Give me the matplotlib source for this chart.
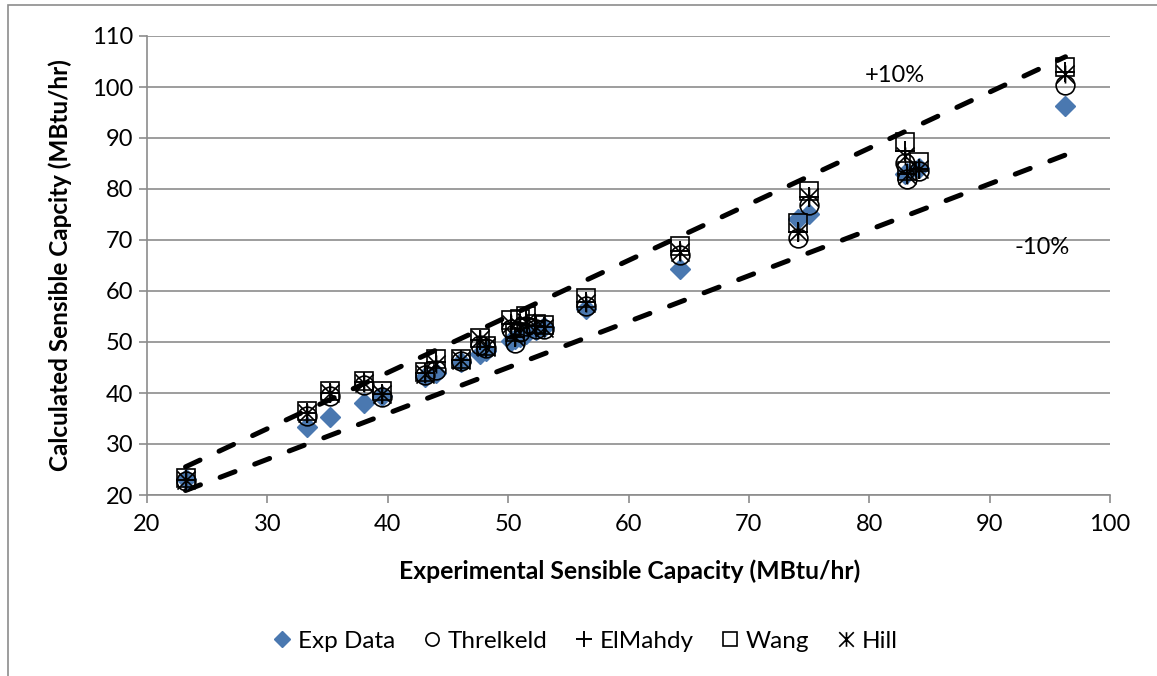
import matplotlib
matplotlib.use("Agg")
import matplotlib.pyplot as plt
import numpy as np
from matplotlib.path import Path
from matplotlib.patches import Rectangle

plt.rcParams['font.family'] = ['Lato', 'DejaVu Sans']

# ---- data (MBtu/hr) ----
exp_x = [23.2, 33.3, 35.2, 38.0, 39.5, 43.1, 44.0, 46.1, 47.7, 48.2,
         50.2, 50.6, 51.0, 51.5, 52.3, 53.0, 56.5, 64.3, 74.1, 75.0,
         83.0, 83.1, 84.1, 96.3]
exp_y = exp_x
threlkeld = [22.8, 35.5, 39.4, 41.6, 39.3, 43.5, 44.5, 46.2, 49.5, 48.8,
             52.5, 49.8, 52.0, 53.2, 52.5, 52.5, 57.0, 67.0, 70.3, 76.8,
             85.0, 82.0, 83.5, 100.4]
elmahdy = [23.0, 36.0, 40.0, 42.2, 39.8, 44.0, 46.0, 46.5, 50.3, 49.0,
           53.5, 51.0, 53.5, 54.5, 53.2, 53.0, 57.8, 67.8, 71.5, 78.5,
           87.5, 83.0, 84.0, 103.0]
wang = [23.4, 36.4, 40.3, 42.3, 40.3, 44.2, 46.7, 46.6, 50.8, 49.3,
        54.3, 52.0, 54.5, 55.0, 53.6, 53.3, 58.6, 68.8, 73.4, 79.7,
        89.2, 83.5, 85.3, 104.0]
hill = [23.0, 36.0, 40.0, 42.0, 39.8, 43.8, 45.7, 46.4, 50.5, 49.0,
        53.5, 51.0, 53.0, 54.0, 53.0, 52.8, 57.7, 67.7, 71.5, 78.5,
        86.5, 82.8, 84.0, 102.5]
band_x = [23.2, 96.3]
upper_factor = 1.1
lower_factor = 0.9

W, H = 1157, 676
fig = plt.figure(figsize=(W / 100, H / 100), dpi=100)
ax = fig.add_axes([147 / W, 1 - 495 / H, (1110 - 147) / W, (495 - 36) / H])

# outer chart border (only top and left visible)
fig.patches.append(Rectangle((8 / W, -0.1), 1.2, (676 - 5) / H + 0.1,
                             transform=fig.transFigure, fill=False,
                             edgecolor='#8c8c8c', linewidth=1.2))

blue = '#4a78b0'
ax.plot(exp_x, exp_y, linestyle='none', marker='D', markersize=10.2,
        color=blue, markeredgecolor=blue, zorder=3)
ax.plot(exp_x, threlkeld, linestyle='none', marker='o', markersize=13.5,
        markerfacecolor='none', markeredgecolor='black', markeredgewidth=1.2, zorder=4)
ax.plot(exp_x, elmahdy, linestyle='none', marker='+', markersize=14.5,
        color='black', markeredgewidth=1.4, zorder=4)
ax.plot(exp_x, wang, linestyle='none', marker='s', markersize=13,
        markerfacecolor='none', markeredgecolor='black', markeredgewidth=1.2, zorder=4)

star = Path([(-0.5, -0.5), (0.5, 0.5), (-0.5, 0.5), (0.5, -0.5), (0, -0.5), (0, 0.5)],
            [Path.MOVETO, Path.LINETO, Path.MOVETO, Path.LINETO, Path.MOVETO, Path.LINETO])
ax.plot(exp_x, hill, linestyle='none', marker=star, markersize=13,
        markerfacecolor='none', markeredgecolor='black', markeredgewidth=1.2, zorder=4)

bx = np.array(band_x)
for f in (upper_factor, lower_factor):
    ln, = ax.plot(bx, bx * f, color='black', linewidth=3.6, solid_capstyle='round',
                  dash_capstyle='round', zorder=2)
    ln.set_dashes((3.2, 4.2))

ax.annotate('+10%', xy=(895 / W, 1 - 76 / H), xycoords='figure fraction',
            ha='center', va='center', fontsize=17)
ax.annotate('-10%', xy=(1042 / W, 1 - 248 / H), xycoords='figure fraction',
            ha='center', va='center', fontsize=17)

ax.set_xlim(20, 100)
ax.set_ylim(20, 110)
ax.set_xticks(np.arange(20, 101, 10))
ax.set_yticks(np.arange(20, 111, 10))
ax.tick_params(axis='both', labelsize=17, length=6, width=1.2, color='#8c8c8c',
               direction='out')
ax.tick_params(axis='x', pad=8)
ax.tick_params(axis='y', pad=4)
ax.yaxis.grid(True, color='#8c8c8c', linewidth=1.2)
ax.set_axisbelow(True)
for s in ('top', 'right'):
    ax.spines[s].set_visible(False)
for s in ('left', 'bottom'):
    ax.spines[s].set_color('#8c8c8c')
    ax.spines[s].set_linewidth(1.2)

fig.text(630 / W, 1 - 571 / H, 'Experimental Sensible Capacity (MBtu/hr)',
         ha='center', va='center', fontsize=17.8, fontweight='bold')
fig.text(60 / W, 1 - 265 / H, 'Calculated Sensible Capcity (MBtu/hr)',
         ha='center', va='center', rotation=90, fontsize=17.5, fontweight='bold')

handles = [
    plt.Line2D([], [], linestyle='none', marker='D', markersize=8.5, color=blue),
    plt.Line2D([], [], linestyle='none', marker='o', markersize=9.5,
               markerfacecolor='none', markeredgecolor='black', markeredgewidth=1.2),
    plt.Line2D([], [], linestyle='none', marker='+', markersize=11.5, color='black',
               markeredgewidth=1.4),
    plt.Line2D([], [], linestyle='none', marker='s', markersize=10.5,
               markerfacecolor='none', markeredgecolor='black', markeredgewidth=1.2),
    plt.Line2D([], [], linestyle='none', marker=star, markersize=10.5,
               markerfacecolor='none', markeredgecolor='black', markeredgewidth=1.2),
]
labels = ['Exp Data', 'Threlkeld', 'ElMahdy', 'Wang', 'Hill']
fig.legend(handles, labels, loc='center', bbox_to_anchor=(585 / W, 1 - 641 / H),
           ncol=5, frameon=False, fontsize=17.5, handlelength=0.8, handletextpad=0.25,
           columnspacing=1.1, borderpad=0)

fig.savefig('out.png', dpi=100)
